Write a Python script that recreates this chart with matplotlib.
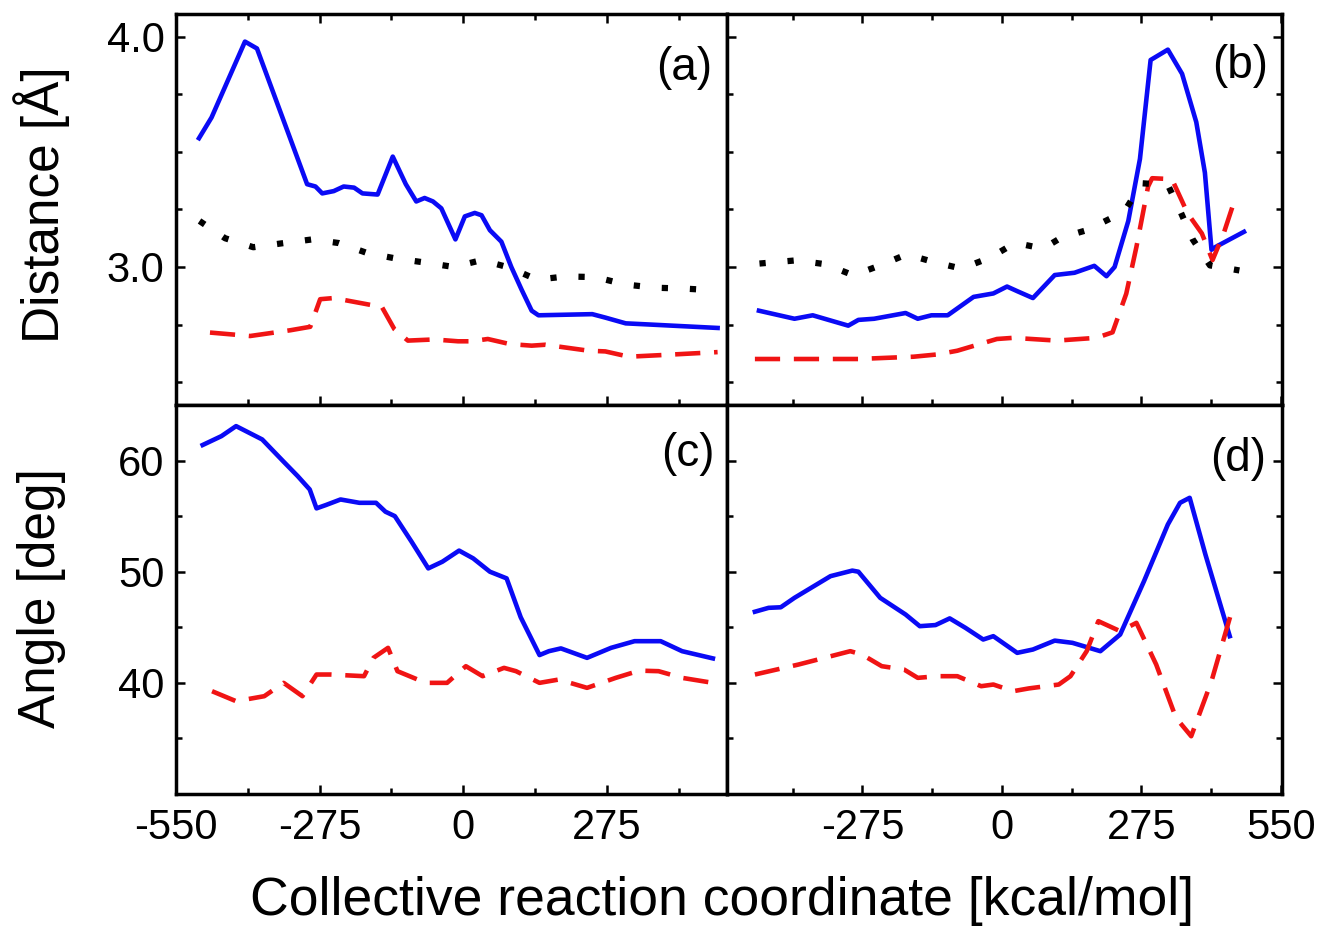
import numpy as np
import matplotlib
matplotlib.use("Agg")
import matplotlib.pyplot as plt

plt.rcParams['font.family'] = ['Liberation Sans', 'DejaVu Sans']
plt.rcParams['axes.unicode_minus'] = False

# panel (a): distances, left column
a_blue_x = [-506, -482, -418, -395, -299, -283, -270, -248, -229, -209, -193, -164, -135, -110, -90, -74,
            -58, -42, -15, 3, 22, 35, 51, 73, 92, 112, 131, 144, 247, 272, 311, 356, 487]
a_blue_y = [3.56, 3.65, 3.98, 3.95, 3.36, 3.35, 3.32, 3.33, 3.35, 3.345, 3.32, 3.315, 3.48, 3.36, 3.285, 3.30,
            3.285, 3.255, 3.12, 3.22, 3.235, 3.225, 3.16, 3.11, 3.0, 2.90, 2.81, 2.79, 2.795, 2.78, 2.755, 2.75, 2.735]
a_red_x = [-485, -408, -331, -293, -274, -248, -177, -158, -132, -106, -56, -10, 15, 47, 89, 131, 157,
           240, 272, 317, 388, 487]
a_red_y = [2.715, 2.70, 2.725, 2.74, 2.86, 2.865, 2.835, 2.835, 2.73, 2.68, 2.685, 2.677, 2.677, 2.687, 2.665,
           2.658, 2.662, 2.636, 2.633, 2.61, 2.618, 2.63]
a_black_x = [-505, -456, -402, -347, -289, -238, -183, -129, -75, -18, 35, 89, 141, 196, 253, 310, 367, 424, 487]
a_black_y = [3.20, 3.125, 3.086, 3.103, 3.12, 3.104, 3.06, 3.037, 3.02, 3.0, 3.03, 2.997, 2.945, 2.959, 2.956,
             2.924, 2.91, 2.906, 2.898]

# panel (b): distances, right column
b_blue_x = [-479, -409, -373, -303, -283, -252, -190, -166, -139, -107, -56, -17, 10, 30, 61, 104, 143, 182,
            206, 222, 249, 272, 293, 327, 355, 383, 400, 413, 421, 477]
b_blue_y = [2.81, 2.775, 2.79, 2.745, 2.77, 2.775, 2.80, 2.775, 2.79, 2.79, 2.87, 2.885, 2.915, 2.895, 2.865,
            2.965, 2.975, 3.005, 2.96, 3.0, 3.20, 3.47, 3.90, 3.945, 3.84, 3.63, 3.41, 3.075, 3.087, 3.153]
b_red_x = [-487, -283, -174, -127, -88, -10, 22, 108, 186, 218, 245, 265, 288, 296, 335, 366, 394, 415, 437, 460]
b_red_y = [2.60, 2.60, 2.61, 2.62, 2.636, 2.687, 2.692, 2.68, 2.692, 2.716, 2.884, 3.087, 3.35, 3.386, 3.382,
           3.233, 3.146, 3.03, 3.146, 3.30]
b_black_x = [-478, -405, -348, -293, -240, -188, -135, -80, -23, 26, 81, 117, 167, 214, 245, 276, 327, 352,
             376, 410, 468]
b_black_y = [3.015, 3.029, 3.012, 2.964, 3.007, 3.055, 3.022, 2.993, 3.041, 3.105, 3.08, 3.128, 3.16, 3.211,
             3.255, 3.364, 3.357, 3.24, 3.12, 3.007, 2.985]

# panel (c): angles, left column
c_blue_x = [-499, -463, -435, -385, -344, -317, -294, -281, -263, -235, -199, -167, -149, -131, -99, -67, -40,
            -8, 19, 51, 83, 110, 146, 164, 187, 237, 283, 328, 378, 419, 478]
c_blue_y = [61.4, 62.2, 63.1, 61.9, 59.9, 58.6, 57.4, 55.7, 56.0, 56.5, 56.2, 56.2, 55.4, 55.0, 52.7, 50.3, 50.9,
            51.9, 51.2, 50.0, 49.4, 45.9, 42.5, 42.85, 43.1, 42.25, 43.15, 43.75, 43.75, 42.85, 42.2]
c_red_x = [-481, -435, -381, -344, -308, -281, -254, -190, -172, -144, -126, -72, -31, 5, 37, 78, 101, 146,
           183, 237, 292, 337, 374, 419, 478]
c_red_y = [39.25, 38.35, 38.8, 40.0, 38.8, 40.75, 40.75, 40.6, 42.25, 43.15, 41.05, 40.0, 40.0, 41.5, 40.6,
           41.35, 41.05, 40.0, 40.3, 39.55, 40.45, 41.1, 41.05, 40.45, 40.0]

# panel (d): angles, right column
d_blue_x = [-487, -460, -436, -409, -338, -295, -283, -240, -190, -162, -131, -103, -72, -37, -17, 30, 61, 104,
            139, 194, 233, 280, 327, 351, 370, 401, 449]
d_blue_y = [46.4, 46.75, 46.8, 47.65, 49.6, 50.1, 50.0, 47.65, 46.15, 45.1, 45.2, 45.8, 44.95, 43.9, 44.2, 42.7,
            43.0, 43.8, 43.6, 42.85, 44.35, 49.15, 54.25, 56.2, 56.65, 51.55, 44.2]
d_red_x = [-487, -401, -299, -276, -237, -193, -166, -127, -88, -41, -17, 22, 53, 112, 135, 167, 190, 233, 265,
           304, 343, 373, 413, 452]
d_red_y = [40.75, 41.65, 42.85, 42.55, 41.5, 41.2, 40.45, 40.6, 40.6, 39.7, 39.85, 39.25, 39.5, 39.85, 40.6,
           42.85, 45.55, 44.65, 45.4, 41.65, 36.85, 35.2, 40.15, 46.3]

left_xticks = [-550, -275, 0, 275]
right_xticks = [-275, 0, 275, 550]
x_minor = [-412.5, -137.5, 137.5, 412.5]
panel_tags = ['(a)', '(b)', '(c)', '(d)']

BLUE = '#0a0af5'
RED = '#f01414'
LW = 3.3
dash_style = (0, (5.5, 3.0))
dot_style = (0, (1, 3.5))

W, H = 1322, 926
fig = plt.figure(figsize=(W / 100, H / 100), dpi=100)

def rect(x0, x1, y0, y1):
    # pixel box -> figure fraction
    return [x0 / W, 1 - y1 / H, (x1 - x0) / W, (y1 - y0) / H]

ax_a = fig.add_axes(rect(175.5, 727, 14, 405))
ax_b = fig.add_axes(rect(727, 1281.5, 14, 405))
ax_c = fig.add_axes(rect(175.5, 727, 405, 794))
ax_d = fig.add_axes(rect(727, 1281.5, 405, 794))

ax_a.plot(a_blue_x, a_blue_y, color=BLUE, lw=LW)
ax_a.plot(a_red_x, a_red_y, color=RED, lw=LW, linestyle=dash_style)
ax_a.plot(a_black_x, a_black_y, color='black', lw=4.5, linestyle=dot_style)

ax_b.plot(b_blue_x, b_blue_y, color=BLUE, lw=LW)
ax_b.plot(b_red_x, b_red_y, color=RED, lw=LW, linestyle=dash_style)
ax_b.plot(b_black_x, b_black_y, color='black', lw=4.5, linestyle=dot_style)

ax_c.plot(c_blue_x, c_blue_y, color=BLUE, lw=LW)
ax_c.plot(c_red_x, c_red_y, color=RED, lw=LW, linestyle=dash_style)

ax_d.plot(d_blue_x, d_blue_y, color=BLUE, lw=LW)
ax_d.plot(d_red_x, d_red_y, color=RED, lw=LW, linestyle=dash_style)

for ax in (ax_a, ax_c):
    ax.set_xlim(-551, 505)
    ax.set_xticks(left_xticks)
for ax in (ax_b, ax_d):
    ax.set_xlim(-542, 551)
    ax.set_xticks(right_xticks)
for ax in (ax_a, ax_b):
    ax.set_ylim(2.4, 4.1)
    ax.set_yticks([3.0, 4.0])
    ax.set_yticks([2.5, 2.75, 3.25, 3.5, 3.75], minor=True)
    ax.set_yticklabels(['3.0', '4.0'])
for ax in (ax_c, ax_d):
    ax.set_ylim(30, 65)
    ax.set_yticks([40, 50, 60])
    ax.set_yticks([35, 45, 55], minor=True)

for ax in (ax_a, ax_b, ax_c, ax_d):
    ax.set_xticks(x_minor, minor=True)
    for s in ax.spines.values():
        s.set_linewidth(2.5)
    ax.tick_params(which='both', direction='in', width=1.8, labelsize=30)
    ax.tick_params(which='major', length=6.5)
    ax.tick_params(which='minor', length=4)
    ax.tick_params(axis='y', pad=8)
    ax.tick_params(axis='x', pad=10)

ax_a.tick_params(which='both', top=True, bottom=True, left=True, right=False, labelbottom=False)
ax_b.tick_params(which='both', top=True, bottom=True, left=True, right=True, labelbottom=False, labelleft=False)
ax_c.tick_params(which='both', top=False, bottom=True, left=True, right=False)
ax_d.tick_params(which='both', top=False, bottom=True, left=True, right=True, labelleft=False)

tag_pos = [(0.974, 0.862), (0.976, 0.867), (0.977, 0.874), (0.973, 0.861)]
for ax, tag, (tx, ty) in zip((ax_a, ax_b, ax_c, ax_d), panel_tags, tag_pos):
    ax.text(tx, ty, tag, transform=ax.transAxes, ha='right', va='center', fontsize=33)

fig.text(42 / W, 1 - 205 / H, 'Distance [Å]', rotation=90, ha='center', va='center', fontsize=37)
fig.text(42 / W, 1 - 598 / H, 'Angle [deg]', rotation=90, ha='center', va='center', fontsize=37)
fig.text(722 / W, 1 - 915 / H, 'Collective reaction coordinate [kcal/mol]', ha='center', va='baseline',
         fontsize=38.5)

fig.savefig('out.png', dpi=100)
